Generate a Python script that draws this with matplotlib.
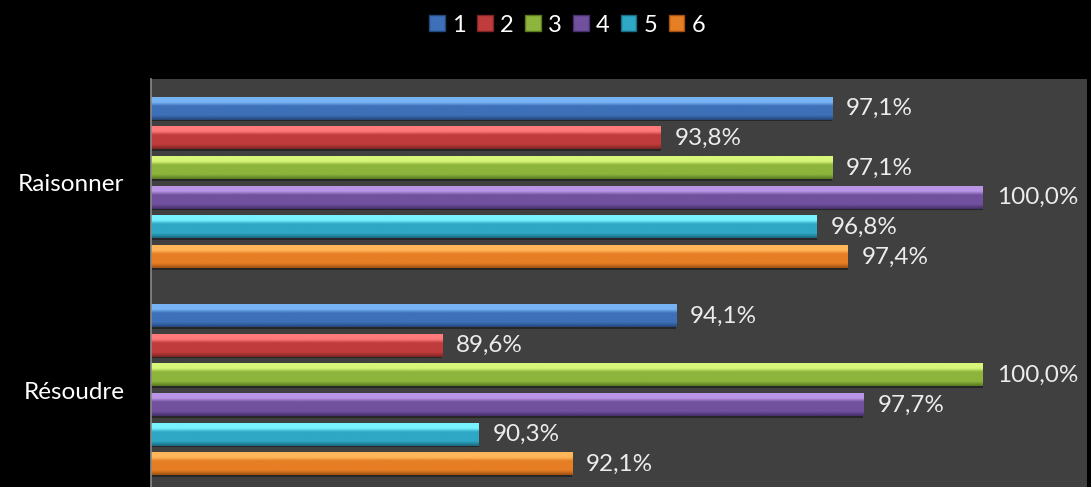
import numpy as np
import matplotlib.pyplot as plt
from matplotlib.colors import LinearSegmentedColormap
from matplotlib.patches import Patch

categories = ["Raisonner", "Résoudre"]
series = ["1", "2", "3", "4", "5", "6"]
raisonner = [97.1, 93.8, 97.1, 100.0, 96.8, 97.4]
resoudre = [94.1, 89.6, 100.0, 97.7, 90.3, 92.1]
values = [raisonner, resoudre]

# light / mid / dark tones per series
colors = [
    ("#78b4f5", "#3d70b8", "#24477a"),
    ("#ff7a7a", "#c03c3c", "#7e2424"),
    ("#d8f77a", "#8db43c", "#5a7a22"),
    ("#bb95e6", "#71509e", "#45306a"),
    ("#78f2ff", "#2ea8c4", "#1a6a80"),
    ("#ffb65a", "#e67e24", "#a05012"),
]

xmin, xmax = 84, 102
slot = 29.6 / 207
bar_h = 22 / 207

fig = plt.figure(figsize=(10.91, 4.87), dpi=100)
fig.patch.set_facecolor("black")
ax = fig.add_axes([151 / 1091, -7 / 487, 936 / 1091, 415 / 487])
ax.set_facecolor("#404040")

for c, vals in enumerate(values):
    for i, v in enumerate(vals):
        y = c + (i - 2.5) * slot
        light, mid, dark = colors[i]
        cmap = LinearSegmentedColormap.from_list(
            "g", [(0, light), (0.22, light), (0.38, mid), (0.8, mid), (1, dark)])
        grad = np.linspace(0, 1, 40).reshape(-1, 1)
        # soft shadow
        ax.barh(y + 0.008, v - xmin, left=xmin, height=bar_h, color="#262626", zorder=1)
        ax.imshow(grad, cmap=cmap, aspect="auto", origin="upper",
                  extent=(xmin, v, y + bar_h / 2, y - bar_h / 2), zorder=2)
        ax.text(v + 0.27, y, f"{v:.1f}%".replace(".", ","), va="center", ha="left",
                color="#ececec", fontsize=17.5, family="Lato", zorder=3)

ax.set_xlim(xmin, xmax)
ax.set_ylim(1.5, -0.5)
ax.set_yticks(range(len(categories)))
ax.set_yticklabels(categories, color="white", fontsize=17.5, family="Lato")
ax.tick_params(axis="y", length=0, pad=19)
ax.set_xticks([])
for s in ["top", "right", "bottom"]:
    ax.spines[s].set_visible(False)
ax.spines["left"].set_color("#8a8a8a")
ax.spines["left"].set_linewidth(1.2)

handles = [Patch(facecolor=colors[i][1], edgecolor=colors[i][2]) for i in range(6)]
leg = fig.legend(handles, series, loc="center", bbox_to_anchor=(0.52, 1 - 25 / 487),
                 ncol=6, frameon=False, fontsize=17, handlelength=0.65, handleheight=0.65,
                 handletextpad=0.3, columnspacing=0.5)
for t in leg.get_texts():
    t.set_color("white")
    t.set_family("Lato")

fig.savefig("out.png", dpi=100, facecolor="black")
